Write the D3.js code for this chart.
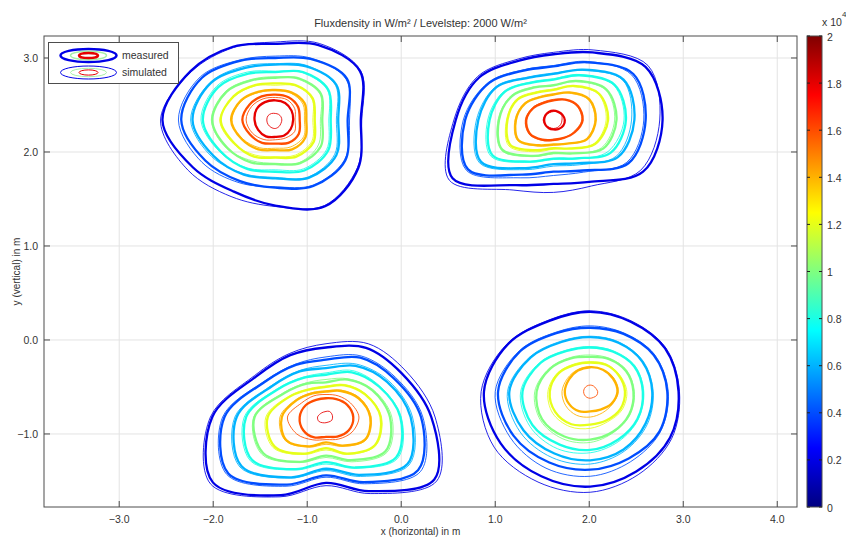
<!DOCTYPE html>
<html><head><meta charset="utf-8">
<script src="https://cdn.jsdelivr.net/npm/d3@7"></script>
<style>body{margin:0;background:#fff}text{font-family:"Liberation Sans",Arial,sans-serif}</style>
</head><body>
<svg id="c" width="846" height="539"></svg>
<script>
// ---------- data ----------
const levels = [2000, 4000, 6000, 8000, 10000, 12000, 14000, 16000, 18000]; // W/m²
const angles = [0, 30, 60, 90, 120, 150, 180, 210, 240, 270, 300, 330];      // deg, contour sample directions
const spotCenterX = [-1.34, 1.62, -0.80, 2.01];   // m
const spotCenterY = [2.34, 2.34, -0.82, -0.55];   // m
// contour radii in cm (one row per level, one value per angle)
const spot1Measured = [
 [91,104,92,81,90,104,120,101,88,91,106,102],
 [77,88,75,66,73,90,100,86,75,72,81,86],
 [67,75,66,59,64,79,88,76,67,62,71,75],
 [59,65,59,51,57,70,77,67,60,55,62,65],
 [50,56,51,45,49,60,67,59,52,47,53,56],
 [42,46,43,39,43,51,58,50,45,40,45,47],
 [33,36,34,32,35,42,47,41,36,32,36,37],
 [26,28,28,27,29,32,35,31,28,25,28,29],
 [19,20,21,21,22,23,22,21,20,18,19,19]];
const spot1Simulated = [
 [92,105,94,83,89,103,122,107,94,92,105,101],
 [79,87,76,68,74,92,103,90,77,71,80,85],
 [65,74,67,60,66,80,90,78,66,61,70,73],
 [57,64,58,52,59,72,79,68,59,53,60,63],
 [48,55,50,46,50,61,68,60,50,46,52,53],
 [40,45,42,37,42,50,59,51,43,39,43,45],
 [31,34,33,31,34,41,46,40,34,30,33,35],
 [21,24,25,24,26,29,31,28,24,21,22,24],
 [7,7,7,7,8,9,9,9,9,9,8,7]];
const spot2Measured = [
 [116,113,83,70,73,91,104,124,80,68,76,110],
 [98,98,71,57,61,79,94,105,67,55,62,92],
 [86,86,62,49,52,70,80,89,59,47,53,79],
 [77,75,55,43,46,60,68,75,51,41,47,70],
 [67,65,48,37,40,51,58,63,44,35,41,61],
 [58,56,42,32,34,44,49,53,37,30,35,51],
 [45,44,34,27,28,35,40,43,31,26,29,41],
 [31,30,25,21,21,25,29,29,24,21,22,26],
 [12,11,10,10,10,10,10,10,10,10,11,12]];
const spot2Simulated = [
 [113,116,86,72,75,93,106,128,86,77,81,107],
 [96,96,72,58,62,80,96,107,71,59,64,90],
 [83,85,61,50,53,71,82,91,61,49,55,77],
 [75,74,56,44,47,61,70,77,52,42,48,67],
 [65,64,47,37,41,52,59,64,45,36,41,59],
 [56,55,41,33,35,45,50,55,39,31,35,50],
 [44,43,33,28,29,36,41,44,32,27,29,40],
 [30,29,25,22,22,26,30,30,25,22,22,25],
 [9,10,10,9,9,10,11,10,9,9,9,9]];
const spot3Measured = [
 [112,93,85,74,76,86,121,139,96,70,91,133],
 [101,83,73,61,64,75,108,120,83,62,80,113],
 [90,75,63,52,56,66,95,104,74,55,71,100],
 [79,65,55,45,48,59,85,91,64,48,62,86],
 [68,57,46,37,41,51,76,77,55,41,53,73],
 [58,48,39,32,34,44,62,63,45,33,45,60],
 [47,40,32,27,29,36,47,49,36,27,35,48],
 [29,26,22,20,21,25,28,28,25,21,24,28]];
const spot3Simulated = [
 [116,98,90,78,78,88,123,142,98,73,94,136],
 [103,85,75,64,65,76,110,122,85,64,82,116],
 [92,77,65,55,57,67,97,106,75,57,73,102],
 [80,66,57,47,49,60,87,93,65,50,63,88],
 [70,58,47,40,42,52,77,79,56,43,55,75],
 [59,49,40,33,35,45,64,65,46,35,46,61],
 [48,41,33,28,30,37,49,50,37,29,36,49],
 [35,30,26,24,26,30,41,36,28,24,27,32],
 [7,7,7,6,6,7,9,9,7,6,6,7]];
const spot4Measured = [
 [94,92,86,85,87,101,113,110,104,101,98,98],
 [82,78,71,68,72,86,98,94,87,83,82,85],
 [66,64,60,58,61,73,86,82,76,73,71,68],
 [56,54,49,47,50,61,72,71,65,62,59,58],
 [46,44,40,37,41,49,57,59,55,51,49,48],
 [37,35,33,31,33,39,43,43,40,35,35,37],
 [29,28,27,26,26,26,27,26,24,21,22,26]];
const spot4Simulated = [
 [95,93,87,86,88,102,116,118,111,107,102,100],
 [83,79,72,70,73,87,101,98,94,90,86,86],
 [67,65,61,59,62,74,88,86,81,77,73,70],
 [57,55,50,48,51,62,74,74,70,65,61,59],
 [47,45,41,39,42,50,59,61,58,54,50,49],
 [39,36,34,32,34,40,45,46,43,39,37,39],
 [30,29,27,26,27,28,30,30,29,27,26,27],
 [8,7,7,7,7,7,7,7,7,7,7,8]];

const xTicks = [-3, -2, -1, 0, 1, 2, 3, 4];
const yTicks = [-1, 0, 1, 2, 3];
const xDomain = [-3.8, 4.21];
const yDomain = [-1.777, 3.234];
const cbTicks = [0, 0.2, 0.4, 0.6, 0.8, 1, 1.2, 1.4, 1.6, 1.8, 2];
const cbTickLabels = ["0","0.2","0.4","0.6","0.8","1","1.2","1.4","1.6","1.8","2"];
const cbDomain = [0, 2]; // x 10^4 W/m²
const legendLabels = ["measured", "simulated"];

// ---------- layout ----------
const svg = d3.select("#c");
const L = 44, R = 797, T = 36, B = 507;
const x = d3.scaleLinear().domain(xDomain).range([L, R]);
const y = d3.scaleLinear().domain(yDomain).range([B, T]);
const jetStops = [0, 0.125, 0.375, 0.625, 0.875, 1];
const jetColors = ["#000080", "#0000ff", "#00ffff", "#ffff00", "#ff0000", "#800000"];
const jet = d3.scaleLinear().domain(jetStops.map(t => t * 20000)).range(jetColors).clamp(true);
const axisCol = "#4d4d4d", textCol = "#333";

// grid
const g = svg.append("g");
g.selectAll(".gx").data(xTicks).join("line")
  .attr("x1", d => x(d)).attr("x2", d => x(d)).attr("y1", T).attr("y2", B)
  .attr("stroke", "#e3e3e3").attr("stroke-width", 1);
g.selectAll(".gy").data(yTicks).join("line")
  .attr("y1", d => y(d)).attr("y2", d => y(d)).attr("x1", L).attr("x2", R)
  .attr("stroke", "#e3e3e3").attr("stroke-width", 1);

// contours
svg.append("clipPath").attr("id", "pc").append("rect").attr("x", L).attr("y", T).attr("width", R - L).attr("height", B - T);
const cg = svg.append("g").attr("clip-path", "url(#pc)");
const line = d3.line().curve(d3.curveCatmullRomClosed.alpha(0.5));
const spots = [
  [spot1Measured, spot1Simulated],
  [spot2Measured, spot2Simulated],
  [spot3Measured, spot3Simulated],
  [spot4Measured, spot4Simulated]];
function contourPts(row, cx, cy) {
  return angles.map((a, j) => {
    const t = a * Math.PI / 180, r = row[j] / 100;
    return [x(cx + r * Math.cos(t)), y(cy + r * Math.sin(t))];
  });
}
[1, 0].forEach(series => {
  spots.forEach((sp, k) => {
    sp[series].forEach((row, i) => {
      cg.append("path")
        .attr("d", line(contourPts(row, spotCenterX[k], spotCenterY[k])))
        .attr("fill", "none")
        .attr("stroke", jet(levels[i]))
        .attr("stroke-width", series === 0 ? 2.3 : 1)
        .attr("stroke-opacity", series === 0 ? 1 : 0.85);
    });
  });
});

// axes box and ticks
svg.append("rect").attr("x", L).attr("y", T).attr("width", R - L).attr("height", B - T)
  .attr("fill", "none").attr("stroke", axisCol).attr("stroke-width", 1);
const tk = svg.append("g").attr("stroke", axisCol).attr("stroke-width", 1);
xTicks.forEach(d => {
  tk.append("line").attr("x1", x(d)).attr("x2", x(d)).attr("y1", B).attr("y2", B - 6);
  tk.append("line").attr("x1", x(d)).attr("x2", x(d)).attr("y1", T).attr("y2", T + 6);
});
yTicks.forEach(d => {
  tk.append("line").attr("y1", y(d)).attr("y2", y(d)).attr("x1", L).attr("x2", L + 6);
  tk.append("line").attr("y1", y(d)).attr("y2", y(d)).attr("x1", R).attr("x2", R - 6);
});
const fmt = d3.format(".1f");
svg.selectAll(".xl").data(xTicks).join("text")
  .attr("x", d => x(d)).attr("y", 523).attr("text-anchor", "middle")
  .attr("font-size", 10.5).attr("fill", textCol).text(d => fmt(d));
svg.selectAll(".yl").data(yTicks).join("text")
  .attr("x", 38).attr("y", d => y(d) + 3.8).attr("text-anchor", "end")
  .attr("font-size", 10.5).attr("fill", textCol).text(d => fmt(d));
svg.append("text").attr("x", (L + R) / 2).attr("y", 535).attr("text-anchor", "middle")
  .attr("font-size", 10).attr("fill", textCol).text("x (horizontal) in m");
svg.append("text").attr("transform", `translate(20,${(T + B) / 2}) rotate(-90)`)
  .attr("text-anchor", "middle").attr("font-size", 10).attr("fill", textCol).text("y (vertical) in m");
svg.append("text").attr("x", (L + R) / 2).attr("y", 27).attr("text-anchor", "middle")
  .attr("font-size", 11).attr("fill", textCol).text("Fluxdensity in W/m² / Levelstep: 2000 W/m²");

// legend
const lg = svg.append("g");
lg.append("rect").attr("x", 48.5).attr("y", 42.5).attr("width", 130).attr("height", 41)
  .attr("fill", "#fff").attr("stroke", axisCol).attr("stroke-width", 1);
const legendRings = [[28, 6.5, 2000], [18, 4.2, 10000], [9.5, 2.6, 18000]];
legendLabels.forEach((lab, i) => {
  const cy = 55.5 + i * 17;
  legendRings.forEach(([rx, ry, lv]) => {
    lg.append("ellipse").attr("cx", 88.5).attr("cy", cy).attr("rx", rx).attr("ry", ry)
      .attr("fill", "none").attr("stroke", lv === 10000 ? "#a8f0a8" : jet(lv))
      .attr("stroke-width", i === 0 ? (lv === 10000 ? 1.5 : 2.5) : 1);
  });
  lg.append("text").attr("x", 122).attr("y", cy + 3.8).attr("font-size", 10.5)
    .attr("fill", textCol).text(lab);
});

// colorbar
const cbX = 807, cbW = 15;
const cy2 = d3.scaleLinear().domain(cbDomain).range([B, T]);
const grad = svg.append("defs").append("linearGradient").attr("id", "jetg")
  .attr("x1", 0).attr("y1", 1).attr("x2", 0).attr("y2", 0);
jetStops.forEach((s, i) => grad.append("stop").attr("offset", s).attr("stop-color", jetColors[i]));
svg.append("rect").attr("x", cbX).attr("y", T).attr("width", cbW).attr("height", B - T)
  .attr("fill", "url(#jetg)").attr("stroke", axisCol).attr("stroke-width", 1);
cbTicks.forEach((d, i) => {
  svg.append("line").attr("x1", cbX).attr("x2", cbX + 3).attr("y1", cy2(d)).attr("y2", cy2(d)).attr("stroke", "#222");
  svg.append("line").attr("x1", cbX + cbW).attr("x2", cbX + cbW - 3).attr("y1", cy2(d)).attr("y2", cy2(d)).attr("stroke", "#222");
  svg.append("text").attr("x", cbX + cbW + 5).attr("y", cy2(d) + 4.5).attr("font-size", 10.5)
    .attr("fill", textCol).text(cbTickLabels[i]);
});
svg.append("text").attr("x", 822).attr("y", 26).attr("font-size", 10.5).attr("fill", textCol).text("x 10");
svg.append("text").attr("x", 842).attr("y", 17).attr("font-size", 8).attr("fill", textCol).text("4");
</script>
</body></html>
